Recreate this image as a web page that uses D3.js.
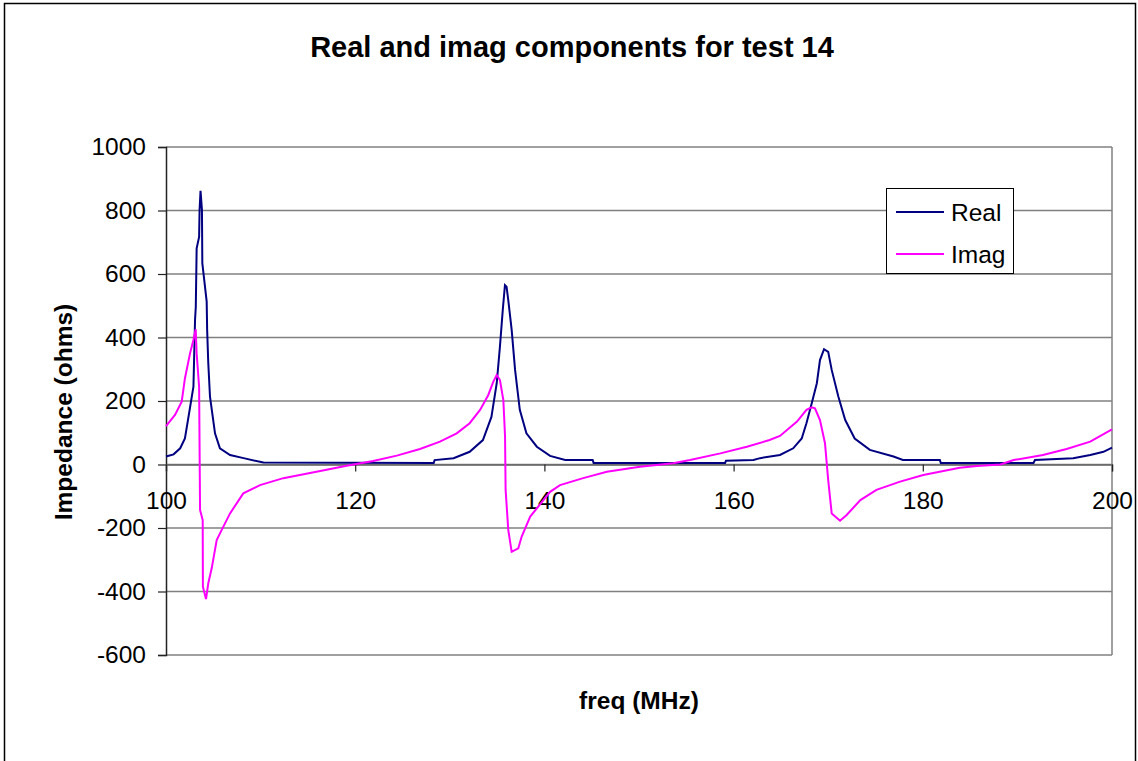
<!DOCTYPE html>
<html><head><meta charset="utf-8">
<script src="https://cdn.jsdelivr.net/npm/d3@7"></script>
<style>body{margin:0;background:#fff}svg{display:block}text{font-family:Arial,"Liberation Sans",sans-serif}</style>
</head><body><svg id="c" width="1138" height="761"></svg>
<script>
const title = "Real and imag components for test 14";
const xLabel = "freq (MHz)";
const yLabel = "Impedance (ohms)";
const xTicks = [100, 120, 140, 160, 180, 200];
const yTicks = [-600, -400, -200, 0, 200, 400, 600, 800, 1000];
const seriesNames = ["Real", "Imag"];
const seriesColors = ["#000080", "#FF00FF"];

const realFreq = [100.0,100.8,101.5,102.0,102.5,102.9,103.07,103.15,103.24,103.5,103.55,103.65,103.8,103.84,104.3,104.35,104.47,104.65,105.18,105.7,106.77,108.2,110.3,128.3,128.4,130.4,132.1,133.5,134.4,134.96,135.3,135.6,135.83,136.0,136.18,136.54,136.9,137.4,138.1,139.2,140.6,142.2,145.1,145.2,159.1,159.2,162.1,162.8,164.9,166.3,167.2,167.7,168.26,168.8,169.13,169.56,170.0,170.37,171.07,171.8,172.8,174.4,176.9,177.9,181.8,181.9,191.7,191.86,195.9,197.7,199.1,200.0];
const realVals = [25,32,51,82,172,245,455,497,681,717,802,862,802,634,513,424,319,214,98,51,30,20,6,5,14,20,40,77,150,256,371,487,565,560,518,424,298,172,98,56,27,14,14,5,5,12,14,20,30,51,82,130,193,256,329,363,355,298,214,140,82,46,25,14,14,5,5,14,20,30,40,53];

const imagFreq = [100.0,100.95,101.66,102.0,102.54,102.9,103.14,103.24,103.5,103.6,103.88,103.9,104.23,104.47,104.83,105.36,105.89,106.77,108.17,109.94,112.4,115.9,119.1,121.9,124.4,126.85,128.96,130.73,132.1,133.2,134.07,134.6,134.96,135.3,135.66,135.84,135.9,136.18,136.54,137.24,137.6,138.5,139.9,140.6,141.65,144.1,146.6,150.1,153.6,155.4,158.6,161.4,163.8,164.9,166.7,167.7,168.26,168.6,169.13,169.66,170.0,170.37,171.25,171.95,173.4,175.1,177.6,180.05,183.9,185.7,188.2,189.6,192.7,195.2,197.7,200.0];
const imagVals = [121,156,198,271,350,392,426,350,245,-143,-175,-385,-424,-374,-327,-238,-206,-154,-91,-65,-43,-23,-4,11,28,49,72,98,130,172,219,261,282,266,203,88,-80,-206,-275,-264,-227,-164,-112,-86,-65,-43,-23,-7,4,14,35,56,77,90,135,172,180,177,140,67,-49,-154,-177,-159,-112,-80,-54,-33,-10,-5,0,14,30,49,72,111];

const svg = d3.select("#c");
const L = 166, R = 1112, T = 147, B = 655;
const x = d3.scaleLinear().domain([100, 200]).range([L, R]);
const y = d3.scaleLinear().domain([-600, 1000]).range([B, T]);
const fmt = d => String(d);

// outer border
svg.append("rect").attr("x", 4.5).attr("y", 3.5).attr("width", 1131).attr("height", 770)
  .attr("fill", "none").attr("stroke", "#000").attr("stroke-width", 1.5);

// title
svg.append("text").attr("x", 572).attr("y", 57).attr("text-anchor", "middle")
  .attr("font-size", 29).attr("font-weight", "bold").text(title);

// gridlines
svg.append("g").selectAll("line").data(yTicks).join("line")
  .attr("x1", L).attr("x2", R).attr("y1", d => y(d)).attr("y2", d => y(d))
  .attr("stroke", "#808080").attr("stroke-width", 1.5);
svg.append("line").attr("x1", R).attr("x2", R).attr("y1", T).attr("y2", B)
  .attr("stroke", "#808080").attr("stroke-width", 1.5);

// y axis
const yAxis = d3.axisLeft(y).tickValues(yTicks).tickSize(8).tickPadding(12).tickFormat(fmt);
const gy = svg.append("g").attr("transform", `translate(${L},0)`).call(yAxis);
gy.select(".domain").attr("stroke", "#222").attr("stroke-width", 1.5);
gy.selectAll(".tick line").attr("stroke", "#222").attr("stroke-width", 1.2);
gy.selectAll(".tick text").attr("font-size", 24.5).attr("font-family", "Arial, 'Liberation Sans', sans-serif").attr("fill", "#000");

// x axis at zero
const xAxis = d3.axisBottom(x).tickValues(xTicks).tickSize(7).tickPadding(20).tickFormat(fmt);
const gx = svg.append("g").attr("transform", `translate(0,${y(0)})`).call(xAxis);
gx.select(".domain").attr("stroke", "#666").attr("stroke-width", 1.5);
gx.selectAll(".tick line").attr("stroke", "#222").attr("stroke-width", 1.2);
gx.selectAll(".tick text").attr("font-size", 24.5).attr("font-family", "Arial, 'Liberation Sans', sans-serif").attr("fill", "#000");

// lines
const line = d3.line().x(d => x(d[0])).y(d => y(d[1]));
svg.append("path").datum(d3.zip(realFreq, realVals)).attr("d", line).attr("fill", "none")
  .attr("stroke", seriesColors[0]).attr("stroke-width", 2);
svg.append("path").datum(d3.zip(imagFreq, imagVals)).attr("d", line).attr("fill", "none")
  .attr("stroke", seriesColors[1]).attr("stroke-width", 2);

// axis titles
svg.append("text").attr("transform", "translate(72,412) rotate(-90)").attr("text-anchor", "middle")
  .attr("font-size", 24.5).attr("font-weight", "bold").text(yLabel);
svg.append("text").attr("x", 639).attr("y", 709).attr("text-anchor", "middle")
  .attr("font-size", 24.5).attr("font-weight", "bold").text(xLabel);

// legend
const lg = svg.append("g");
lg.append("rect").attr("x", 886.5).attr("y", 188.5).attr("width", 127).attr("height", 85)
  .attr("fill", "#fff").attr("stroke", "#000").attr("stroke-width", 1);
seriesNames.forEach((n, i) => {
  const yy = [212, 254][i];
  lg.append("line").attr("x1", 896).attr("x2", 944).attr("y1", yy).attr("y2", yy)
    .attr("stroke", seriesColors[i]).attr("stroke-width", 2);
  lg.append("text").attr("x", 951).attr("y", yy + 8.5).attr("font-size", 24.5).text(n);
});
</script></body></html>
